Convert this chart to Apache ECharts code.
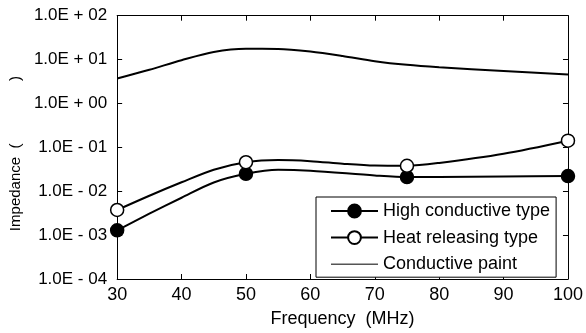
<!DOCTYPE html>
<html>
<head>
<meta charset="utf-8">
<script src="https://cdn.jsdelivr.net/npm/echarts@6/dist/echarts.min.js"></script>
<style>html,body{margin:0;padding:0;background:#fff;}#c{width:586px;height:333px;}</style>
</head>
<body>
<div id="c"></div>
<script>
// Frequency points (MHz) for each curve
const highFreq = [30, 35, 40, 45, 50, 55, 60, 70, 75, 80, 90, 100];
const highVals = [0.00129, 0.00308, 0.00711, 0.0158, 0.0249, 0.031, 0.0294, 0.0229, 0.021, 0.021, 0.0217, 0.0221];
const heatFreq = [30, 35, 40, 45, 50, 55, 60, 65, 70, 75, 80, 90, 100];
const heatVals = [0.00374, 0.0079, 0.016, 0.031, 0.0458, 0.0514, 0.0485, 0.0425, 0.0385, 0.038, 0.0442, 0.0716, 0.142];
const paintFreq = [30, 35, 40, 45, 50, 55, 60, 65, 70, 75, 80, 90, 100];
const paintVals = [3.7, 5.85, 9.7, 14.9, 17.6, 17.5, 15.3, 12.1, 9.2, 7.6, 6.7, 5.5, 4.6];
const markerFreq = [30, 50, 75, 100];
const seriesNames = ['High conductive type', 'Heat releasing type', 'Conductive paint'];
const yTickLabels = ['1.0E - 04', '1.0E - 03', '1.0E - 02', '1.0E - 01', '1.0E + 00', '1.0E + 01', '1.0E + 02'];
const xTicks = [30, 40, 50, 60, 70, 80, 90, 100];

function buildData(fr, vals, withMarkers) {
  return fr.map((f, i) => ({
    value: [f, vals[i]],
    symbol: withMarkers && markerFreq.includes(f) ? 'circle' : 'none'
  }));
}

const chart = echarts.init(document.getElementById('c'), null, {renderer: 'canvas'});
const font = "'Liberation Sans', Arial, sans-serif";
const axisLine = {show: true, onZero: false, lineStyle: {color: '#000', width: 1}};
const axisTick = {show: true, inside: true, length: 5, lineStyle: {color: '#000', width: 1}};

chart.setOption({
  animation: false,
  backgroundColor: '#fff',
  grid: {left: 114, right: 17, top: 15.7, bottom: 45, containLabel: false},
  xAxis: [{
    type: 'value', min: 30, max: 100, interval: 10, position: 'bottom',
    name: 'Frequency  (MHz)', nameLocation: 'middle', nameGap: 31,
    nameTextStyle: {color: '#000', fontSize: 18, fontFamily: font},
    axisLine: axisLine, axisTick: axisTick, splitLine: {show: false},
    axisLabel: {color: '#000', fontSize: 18, fontFamily: font, margin: 7,
      formatter: v => xTicks.includes(v) ? String(v) : ''}
  }, {
    type: 'value', min: 30, max: 100, interval: 10, position: 'top',
    axisLine: axisLine, axisTick: axisTick, splitLine: {show: false}, axisLabel: {show: false}
  }],
  yAxis: [{
    type: 'log', logBase: 10, min: 0.0001, max: 100, position: 'left', splitNumber: 6,
    name: 'Impedance  (               )   ', nameLocation: 'middle', nameGap: 89, nameRotate: 90,
    nameTextStyle: {color: '#000', fontSize: 15, fontFamily: font},
    axisLine: axisLine, axisTick: axisTick, splitLine: {show: false}, minorTick: {show: false},
    axisLabel: {color: '#000', fontSize: 17, fontFamily: font, margin: 10, padding: [6, 0, 0, 0],
      formatter: v => yTickLabels[Math.round(Math.log10(v)) + 4] || ''}
  }, {
    type: 'log', logBase: 10, min: 0.0001, max: 100, position: 'right', splitNumber: 6,
    axisLine: axisLine, axisTick: axisTick, splitLine: {show: false}, axisLabel: {show: false}
  }],
  legend: {
    data: [
      {name: seriesNames[0]},
      {name: seriesNames[1]},
      {name: seriesNames[2], itemStyle: {color: 'rgba(0,0,0,0)', borderColor: 'rgba(0,0,0,0)', borderWidth: 0},
       lineStyle: {color: '#555', width: 1.5}}
    ],
    orient: 'vertical', left: 316, top: 197,
    backgroundColor: '#fff', borderColor: '#000', borderWidth: 1, borderRadius: 0,
    padding: [5, 6, 4, 14], itemGap: 8.6, itemWidth: 47, itemHeight: 16,
    textStyle: {color: '#000', fontSize: 18, fontFamily: font},
    selectedMode: false
  },
  series: [{
    name: seriesNames[0], type: 'line', smooth: 0.3,
    data: buildData(highFreq, highVals, true),
    symbol: 'circle', symbolSize: 13, showSymbol: true, showAllSymbol: true,
    lineStyle: {color: '#000', width: 2},
    itemStyle: {color: '#000', borderColor: '#000', borderWidth: 1.5},
    z: 3
  }, {
    name: seriesNames[1], type: 'line', smooth: 0.3,
    data: buildData(heatFreq, heatVals, true),
    symbol: 'circle', symbolSize: 13, showSymbol: true, showAllSymbol: true,
    lineStyle: {color: '#000', width: 2},
    itemStyle: {color: '#fff', borderColor: '#000', borderWidth: 1.5},
    z: 3
  }, {
    name: seriesNames[2], type: 'line', smooth: 0.3,
    data: buildData(paintFreq, paintVals, false),
    symbol: 'none', showSymbol: false,
    lineStyle: {color: '#000', width: 2},
    itemStyle: {color: '#000'},
    z: 2
  }]
});
</script>
</body>
</html>
